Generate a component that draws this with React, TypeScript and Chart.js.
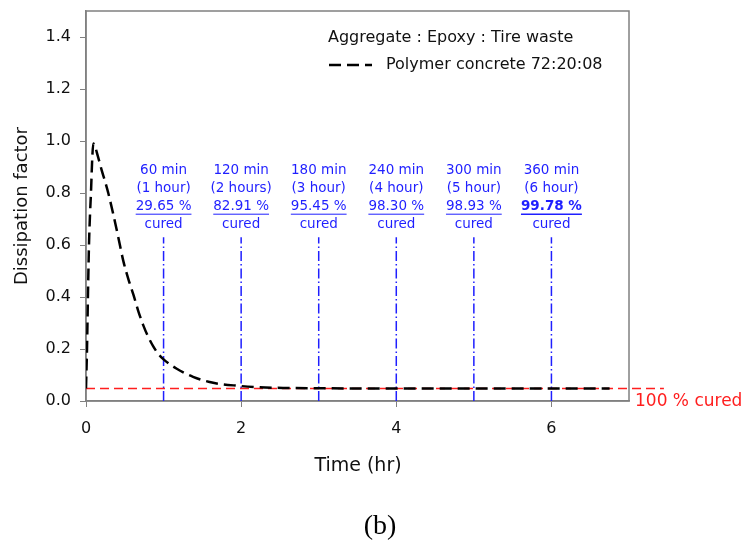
import React, { useEffect, useRef } from "react";
import { Chart, registerables } from "chart.js";

Chart.register(...registerables);

// ---- data ----
const curveTimeHr = [0, 0.013, 0.026, 0.039, 0.052, 0.064, 0.08, 0.094, 0.115, 0.15, 0.2, 0.25, 0.287, 0.35, 0.416, 0.48, 0.545, 0.61, 0.675, 0.74, 0.8, 0.867, 0.93, 1.0, 1.17, 1.38, 1.64, 1.98, 2.2, 2.6, 3.0, 3.5, 4.0, 5.0, 6.0, 6.75];
const curveDissipation = [0.048, 0.2, 0.42, 0.607, 0.72, 0.8, 0.93, 0.99, 0.98, 0.945, 0.89, 0.84, 0.8, 0.72, 0.63, 0.54, 0.47, 0.41, 0.345, 0.29, 0.248, 0.21, 0.182, 0.16, 0.124, 0.093, 0.07, 0.058, 0.053, 0.05, 0.049, 0.048, 0.048, 0.048, 0.048, 0.048];

const curedLevel = 0.048;
const curedLineStartHr = 0;
const curedLineEndHr = 7.45;

const cureMarkHr = [1, 2, 3, 4, 5, 6];
const cureMarkTop = 0.63;
const cureMinutesLabels = ["60 min", "120 min", "180 min", "240 min", "300 min", "360 min"];
const cureHoursLabels = ["(1 hour)", "(2 hours)", "(3 hour)", "(4 hour)", "(5 hour)", "(6 hour)"];
const curePercentLabels = ["29.65 %", "82.91 %", "95.45 %", "98.30 %", "98.93 %", "99.78 %"];
const cureBold = [false, false, false, false, false, true];

const xTickValues = [0, 2, 4, 6];
const yTickValues = [0, 0.2, 0.4, 0.6, 0.8, 1.0, 1.2, 1.4];

const FONT = "'DejaVu Sans', Verdana, sans-serif";
const BLUE = "#1f1fff";
const RED = "#ff1e1e";
const GRAY = "#808080";

export default function App() {
  const canvasRef = useRef<HTMLCanvasElement | null>(null);

  useEffect(() => {
    document.body.style.margin = "0";
    const canvas = canvasRef.current;
    if (!canvas) return;

    const curveData = curveTimeHr.map((t, i) => ({ x: t, y: curveDissipation[i] }));
    const curedData = [
      { x: curedLineStartHr, y: curedLevel },
      { x: curedLineEndHr, y: curedLevel },
    ];
    const markDatasets = cureMarkHr.map((t) => ({
      label: "mark" + t,
      data: [
        { x: t, y: 0 },
        { x: t, y: cureMarkTop },
      ],
      borderColor: BLUE,
      borderWidth: 1.5,
      borderDash: [10, 3, 1.5, 3],
      pointRadius: 0,
      fill: false,
      order: 3,
    }));

    const textPlugin = {
      id: "texts",
      beforeDatasetsDraw(chart: any) {
        const { ctx, chartArea } = chart;
        ctx.save();
        ctx.strokeStyle = GRAY;
        ctx.lineWidth = 1.5;
        ctx.strokeRect(chartArea.left, chartArea.top, chartArea.right - chartArea.left, chartArea.bottom - chartArea.top);
        ctx.restore();
      },
      afterDraw(chart: any) {
        const { ctx, chartArea } = chart;
        const xs = chart.scales.x;
        const ys = chart.scales.y;
        ctx.save();
        ctx.textBaseline = "middle";

        // cure labels
        cureMarkHr.forEach((t, i) => {
          const px = xs.getPixelForValue(t);
          const top = ys.getPixelForValue(cureMarkTop);
          ctx.fillStyle = BLUE;
          ctx.textAlign = "center";
          ctx.font = `13.5px ${FONT}`;
          ctx.fillText(cureMinutesLabels[i], px, top - 67);
          ctx.fillText(cureHoursLabels[i], px, top - 49);
          ctx.font = `${cureBold[i] ? "bold " : ""}13.5px ${FONT}`;
          const y3 = top - 31;
          ctx.fillText(curePercentLabels[i], px, y3);
          const w = ctx.measureText(curePercentLabels[i]).width;
          ctx.strokeStyle = BLUE;
          ctx.lineWidth = cureBold[i] ? 1.5 : 1;
          ctx.beginPath();
          ctx.moveTo(px - w / 2, y3 + 8);
          ctx.lineTo(px + w / 2, y3 + 8);
          ctx.stroke();
          ctx.font = `13.5px ${FONT}`;
          ctx.fillText("cured", px, top - 13);
        });

        // legend
        ctx.fillStyle = "#111";
        ctx.textAlign = "left";
        ctx.font = `16px ${FONT}`;
        ctx.fillText("Aggregate : Epoxy : Tire waste", 328, 38);
        ctx.fillText("Polymer concrete 72:20:08", 386, 65);
        ctx.strokeStyle = "#000";
        ctx.lineWidth = 2.5;
        ctx.setLineDash([12, 6]);
        ctx.beginPath();
        ctx.moveTo(329, 65);
        ctx.lineTo(372, 65);
        ctx.stroke();
        ctx.setLineDash([]);

        // 100 % cured
        ctx.fillStyle = RED;
        ctx.font = `17px ${FONT}`;
        ctx.fillText("100 % cured", 635, ys.getPixelForValue(0) + 1);

        // axis titles
        ctx.fillStyle = "#111";
        ctx.textAlign = "center";
        ctx.font = `19px ${FONT}`;
        ctx.fillText("Time (hr)", 358, 466);
        ctx.save();
        ctx.translate(22, (chartArea.top + chartArea.bottom) / 2);
        ctx.rotate(-Math.PI / 2);
        ctx.font = `18px ${FONT}`;
        ctx.fillText("Dissipation factor", 0, 0);
        ctx.restore();

        // (b)
        ctx.fillStyle = "#000";
        ctx.font = `28px 'Liberation Serif', 'Times New Roman', serif`;
        ctx.fillText("(b)", 380, 527);
        ctx.restore();
      },
    };

    const chart = new Chart(canvas, {
      type: "line",
      data: {
        datasets: [
          {
            label: "Polymer concrete 72:20:08",
            data: curveData,
            borderColor: "#000",
            borderWidth: 2.5,
            borderDash: [12, 6],
            pointRadius: 0,
            cubicInterpolationMode: "monotone",
            fill: false,
            order: 1,
          },
          {
            label: "100 % cured",
            data: curedData,
            borderColor: RED,
            borderWidth: 1.5,
            borderDash: [9, 5],
            pointRadius: 0,
            fill: false,
            clip: false,
            order: 2,
          },
          ...markDatasets,
        ] as any,
      },
      options: {
        animation: false,
        responsive: false,
        maintainAspectRatio: false,
        layout: { padding: { left: 0, top: 11, right: 112, bottom: 0 } },
        plugins: { legend: { display: false }, tooltip: { enabled: false } },
        scales: {
          x: {
            type: "linear",
            min: 0,
            max: 7,
            afterBuildTicks: (s: any) => {
              s.ticks = xTickValues.map((v) => ({ value: v }));
            },
            afterFit: (s: any) => {
              s.height = 140;
              s.paddingLeft = 0;
              s.paddingRight = 0;
            },
            grid: { display: true, drawOnChartArea: false, drawTicks: true, tickLength: 6, color: GRAY },
            border: { display: true, color: GRAY, width: 1.5 },
            ticks: {
              padding: 12,
              color: "#111",
              font: { family: FONT, size: 16 },
              callback: (v: any) => String(v),
            },
          },
          y: {
            type: "linear",
            min: 0,
            max: 1.5,
            afterBuildTicks: (s: any) => {
              s.ticks = yTickValues.map((v) => ({ value: v }));
            },
            afterFit: (s: any) => {
              s.width = 86;
              s.paddingTop = 0;
              s.paddingBottom = 0;
            },
            grid: { display: true, drawOnChartArea: false, drawTicks: true, tickLength: 6, color: GRAY },
            border: { display: true, color: GRAY, width: 1.5 },
            ticks: {
              padding: 9,
              color: "#111",
              font: { family: FONT, size: 16 },
              callback: (v: any) => Number(v).toFixed(1),
            },
          },
        },
      },
      plugins: [textPlugin],
    });

    return () => chart.destroy();
  }, []);

  return (
    <div style={{ width: 741, height: 541, background: "#fff" }}>
      <canvas ref={canvasRef} width={741} height={541} style={{ display: "block", width: 741, height: 541 }} />
    </div>
  );
}
